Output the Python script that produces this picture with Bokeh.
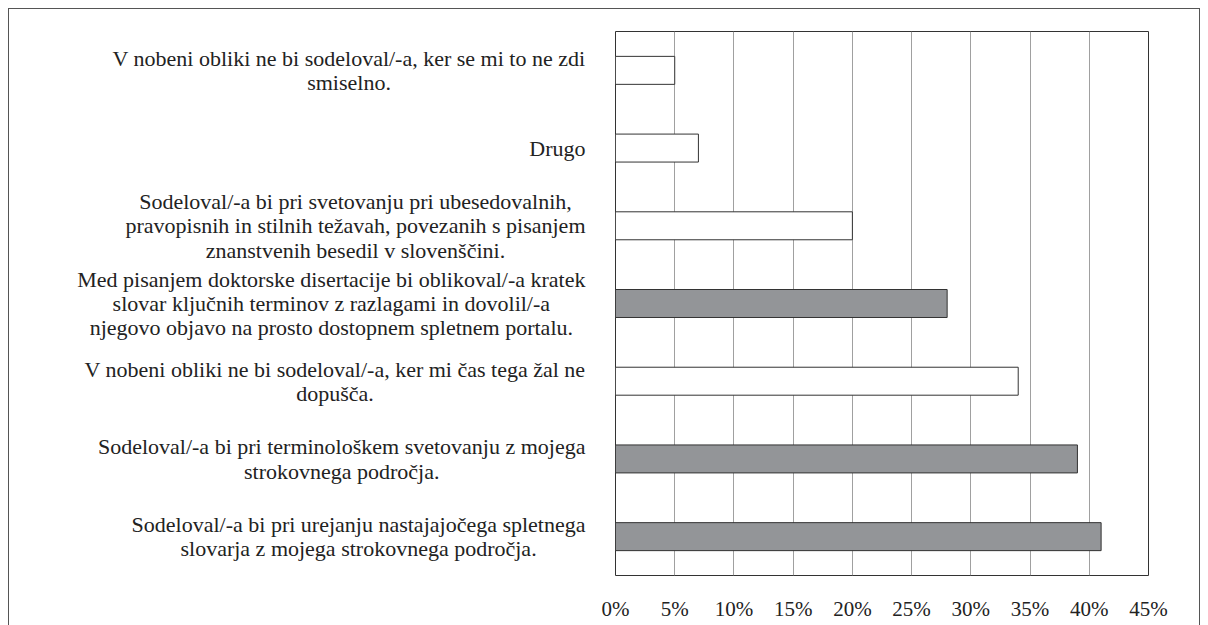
from bokeh.plotting import figure
from bokeh.embed import file_html
from bokeh.resources import INLINE
from bokeh.layouts import row
from bokeh.models import ColumnDataSource, NumeralTickFormatter, FixedTicker, Range1d, FactorRange

# Data (top-to-bottom in the reference)
categories = [
    "V nobeni obliki ne bi sodeloval/-a, ker se mi to ne zdi\nsmiselno.",
    "Drugo",
    "Sodeloval/-a bi pri svetovanju pri ubesedovalnih,\npravopisnih in stilnih težavah, povezanih s pisanjem\nznanstvenih besedil v slovenščini.",
    "Med pisanjem doktorske disertacije bi oblikoval/-a kratek\nslovar ključnih terminov z razlagami in dovolil/-a\nnjegovo objavo na prosto dostopnem spletnem portalu.",
    "V nobeni obliki ne bi sodeloval/-a, ker mi čas tega žal ne\ndopušča.",
    "Sodeloval/-a bi pri terminološkem svetovanju z mojega\nstrokovnega področja.",
    "Sodeloval/-a bi pri urejanju nastajajočega spletnega\nslovarja z mojega strokovnega področja.",
]
values = [0.05, 0.07, 0.20, 0.28, 0.34, 0.39, 0.41]
highlight = [False, False, False, True, False, True, True]
x_ticks = [0, 0.05, 0.10, 0.15, 0.20, 0.25, 0.30, 0.35, 0.40, 0.45]

FONT = "Liberation Serif"
colors = ["#939598" if h else "#ffffff" for h in highlight]
yr = FactorRange(factors=list(reversed(categories)))  # first factor is drawn at the bottom
src = ColumnDataSource(dict(cat=categories, val=values, color=colors))

TOP, BOTTOM = 22, 51

# Left figure: category labels
pl = figure(
    y_range=yr, x_range=Range1d(0, 1),
    width=586, height=617,
    output_backend="svg", toolbar_location=None,
    min_border_left=0, min_border_right=0, min_border_top=TOP, min_border_bottom=BOTTOM,
)
pl.axis.visible = False
pl.grid.visible = False
pl.outline_line_color = None
pl.text(x=1, y="cat", text="cat", source=src, x_offset=-10,
        text_font=FONT, text_font_size="22px", text_color="#222222",
        text_align="center", anchor="center_right", text_line_height=0.97)

# Right figure: bars
p = figure(
    y_range=yr, x_range=Range1d(0, 0.45),
    width=604, height=617,
    output_backend="svg", toolbar_location=None,
    min_border_left=20, min_border_right=51, min_border_top=TOP, min_border_bottom=BOTTOM,
)
p.hbar(y="cat", right="val", left=0, height=0.36, source=src,
       fill_color="color", line_color="#333333", line_width=1)

p.outline_line_color = "#333333"
p.outline_line_width = 1

p.xgrid.ticker = FixedTicker(ticks=x_ticks)
p.xgrid.grid_line_color = "#a0a0a0"
p.ygrid.grid_line_color = None

p.xaxis.ticker = FixedTicker(ticks=x_ticks)
p.xaxis.formatter = NumeralTickFormatter(format="0%")
p.xaxis.axis_line_color = None
p.xaxis.major_tick_line_color = None
p.xaxis.minor_tick_line_color = None
p.xaxis.major_label_text_font = FONT
p.xaxis.major_label_text_font_size = "21px"
p.xaxis.major_label_text_color = "#222222"
p.xaxis.major_label_standoff = 15

p.yaxis.visible = False

layout = row(pl, p, spacing=0)
layout.styles = {"margin-left": "8px", "margin-top": "8px",
                 "border-left": "1px solid #555", "border-top": "1px solid #555",
                 "border-right": "1px solid #555"}

open("out.html", "w").write(file_html(layout, INLINE))
